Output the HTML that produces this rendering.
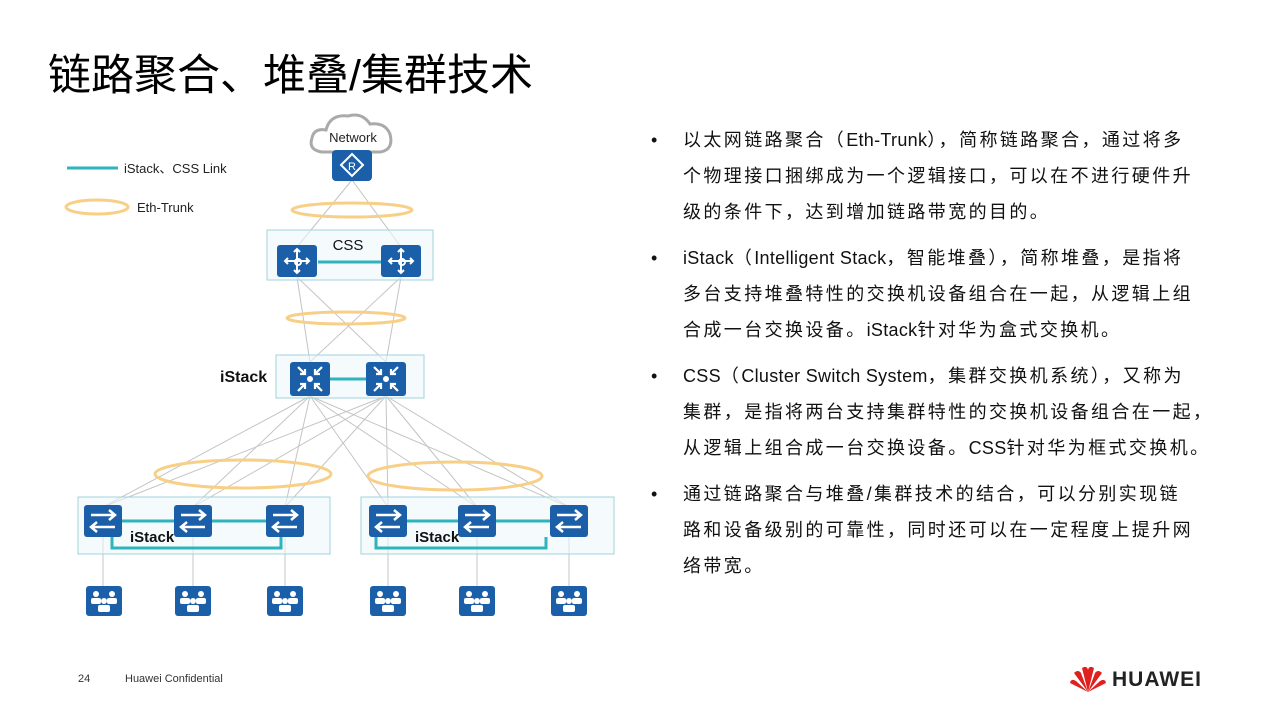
<!DOCTYPE html>
<html><head><meta charset="utf-8"><style>
body{margin:0;width:1280px;height:720px;background:#fff;position:relative;overflow:hidden;font-family:"Liberation Sans","Noto Sans CJK SC",sans-serif}
.t{position:absolute;left:48px;top:41px;font-size:43px;color:#000;white-space:nowrap}
ul{position:absolute;left:655px;top:122px;margin:0;padding:0;list-style:none;width:620px}
li{position:relative;padding-left:28px;font-size:18px;line-height:36px;margin-bottom:10px;color:#111;white-space:nowrap;letter-spacing:2.4px}
li:before{content:"•";position:absolute;left:-4px;top:0}
.l{letter-spacing:0.3px}
.f{position:absolute;top:673px;font-size:11px;color:#333}
</style></head><body>
<div class="t">链路聚合、堆叠/集群技术</div>
<ul>
<li>以太网链路聚合（<span class="l">Eth-Trunk</span>），简称链路聚合，通过将多<br>个物理接口捆绑成为一个逻辑接口，可以在不进行硬件升<br>级的条件下，达到增加链路带宽的目的。</li>
<li><span class="l">iStack</span>（<span class="l">Intelligent Stack</span>，智能堆叠），简称堆叠，是指将<br>多台支持堆叠特性的交换机设备组合在一起，从逻辑上组<br>合成一台交换设备。<span class="l">iStack</span>针对华为盒式交换机。</li>
<li><span class="l">CSS</span>（<span class="l">Cluster Switch System</span>，集群交换机系统），又称为<br>集群，是指将两台支持集群特性的交换机设备组合在一起，<br>从逻辑上组合成一台交换设备。<span class="l">CSS</span>针对华为框式交换机。</li>
<li>通过链路聚合与堆叠/集群技术的结合，可以分别实现链<br>路和设备级别的可靠性，同时还可以在一定程度上提升网<br>络带宽。</li>
</ul>
<div class="f" style="left:78px">24</div>
<div class="f" style="left:125px">Huawei Confidential</div>
<svg style="position:absolute;left:1068px;top:664px" width="40" height="30" viewBox="0 0 40 30">
<g fill="#e0201f"><path d="M20 28 L14 4 Q19 1 20 6Z"/><path d="M20 28 L26 4 Q21 1 20 6Z"/><path d="M20 28 L6 9 Q10 5 13 9Z"/><path d="M20 28 L34 9 Q30 5 27 9Z"/><path d="M20 28 L2 19 Q3 14 8 17Z"/><path d="M20 28 L38 19 Q37 14 32 17Z"/></g></svg>
<div style="position:absolute;left:1112px;top:668px;font-size:21px;font-weight:bold;color:#222;letter-spacing:1px">HUAWEI</div>
<svg style="position:absolute;left:0;top:0" width="640" height="660" font-family="Liberation Sans, Noto Sans CJK SC, sans-serif">
<defs>
<g id="sw"><rect x="-19" y="-16" width="38" height="32" rx="3" fill="#1a5fa8"/><g stroke="#fff" stroke-width="2.5" fill="none"><path d="M-12 -6H12M6 -11L12 -6L6 -1"/><path d="M12 6H-12M-6 1L-12 6L-6 11"/></g></g>
<g id="us"><rect x="-18" y="-15" width="36" height="30" rx="3" fill="#1a5fa8"/><g fill="#fff"><circle cx="-8" cy="-7" r="3"/><circle cx="8" cy="-7" r="3"/><circle cx="0" cy="0" r="3"/><rect x="-13" y="-3" width="10" height="6" rx="2"/><rect x="3" y="-3" width="10" height="6" rx="2"/><rect x="-6" y="4" width="12" height="7" rx="2"/></g></g>
<g id="cs"><rect x="-20" y="-16" width="40" height="32" rx="3" fill="#1a5fa8"/><g stroke="#fff" stroke-width="2" fill="none"><path d="M0 -12V12M-12 0H12M-3 -9L0 -12L3 -9M-3 9L0 12L3 9M-9 -3L-12 0L-9 3M9 -3L12 0L9 3"/><circle cx="1" cy="1" r="3"/></g></g>
<g id="is"><rect x="-20" y="-17" width="40" height="34" rx="3" fill="#1a5fa8"/><g stroke="#fff" stroke-width="2.2" fill="none"><path d="M-12 -12L-5 -5M-5 -10V-5H-10M12 -12L5 -5M5 -10V-5H10M-12 12L-5 5M-5 10V5H-10M12 12L5 5M5 10V5H10"/></g><circle r="3" fill="#fff"/></g>
</defs>
<line x1="67" y1="168" x2="118" y2="168" stroke="#2fb3bd" stroke-width="3"/>
<text x="124" y="173" font-size="13" fill="#222">iStack、CSS Link</text>
<ellipse cx="97" cy="207" rx="31" ry="7" fill="none" stroke="#f8cf86" stroke-width="3"/>
<text x="137" y="212" font-size="13" fill="#222">Eth-Trunk</text>
<path d="M322 152 Q308 150 312 138 Q314 128 326 130 Q330 114 348 116 Q362 112 370 124 Q385 122 390 134 Q394 150 380 152Z" fill="#fff" stroke="#aaa" stroke-width="3"/>
<text x="353" y="142" font-size="13" text-anchor="middle" fill="#222">Network</text>
<g stroke="#c4c4c4" stroke-width="1">
<line x1="352" y1="180" x2="297" y2="247"/><line x1="352" y1="180" x2="401" y2="247"/>
<line x1="297" y1="277" x2="310" y2="362"/><line x1="297" y1="277" x2="386" y2="362"/><line x1="401" y1="277" x2="310" y2="362"/><line x1="401" y1="277" x2="386" y2="362"/>
<line x1="310" y1="396" x2="103" y2="507"/><line x1="310" y1="396" x2="193" y2="507"/><line x1="310" y1="396" x2="285" y2="507"/><line x1="310" y1="396" x2="388" y2="507"/><line x1="310" y1="396" x2="477" y2="507"/><line x1="310" y1="396" x2="569" y2="507"/>
<line x1="386" y1="396" x2="103" y2="507"/><line x1="386" y1="396" x2="193" y2="507"/><line x1="386" y1="396" x2="285" y2="507"/><line x1="386" y1="396" x2="388" y2="507"/><line x1="386" y1="396" x2="477" y2="507"/><line x1="386" y1="396" x2="569" y2="507"/>
<line x1="103" y1="537" x2="103" y2="590"/><line x1="193" y1="537" x2="193" y2="590"/><line x1="285" y1="537" x2="285" y2="590"/><line x1="388" y1="537" x2="388" y2="590"/><line x1="477" y1="537" x2="477" y2="590"/><line x1="569" y1="537" x2="569" y2="590"/>
</g>
<rect x="332" y="150" width="40" height="31" rx="4" fill="#1a5fa8"/>
<path d="M352 154 L363 165 L352 176 L341 165Z" fill="none" stroke="#fff" stroke-width="2"/>
<text x="352" y="170" font-size="11" text-anchor="middle" fill="#fff">R</text>
<g fill="none" stroke="#f8cf86" stroke-width="3">
<ellipse cx="352" cy="210" rx="60" ry="7"/><ellipse cx="346" cy="318" rx="59" ry="6"/>
<ellipse cx="243" cy="474" rx="88" ry="14"/><ellipse cx="455" cy="476" rx="87" ry="14"/>
</g>
<rect x="267" y="230" width="166" height="50" fill="#eef8fa" fill-opacity=".6" stroke="#9fd3dc"/>
<text x="348" y="250" font-size="15" text-anchor="middle" fill="#111">CSS</text>
<line x1="318" y1="262" x2="381" y2="262" stroke="#2fb3bd" stroke-width="3"/>
<use href="#cs" x="297" y="261"/><use href="#cs" x="401" y="261"/>
<rect x="276" y="355" width="148" height="43" fill="#eef8fa" fill-opacity=".6" stroke="#9fd3dc"/>
<text x="220" y="382" font-size="16" font-weight="bold" fill="#111">iStack</text>
<line x1="330" y1="379" x2="366" y2="379" stroke="#2fb3bd" stroke-width="3"/>
<use href="#is" x="310" y="379"/><use href="#is" x="386" y="379"/>
<rect x="78" y="497" width="252" height="57" fill="#eef8fa" fill-opacity=".6" stroke="#9fd3dc"/>
<rect x="361" y="497" width="253" height="57" fill="#eef8fa" fill-opacity=".6" stroke="#9fd3dc"/>
<g stroke="#2fb3bd" stroke-width="3" fill="none">
<line x1="120" y1="521" x2="285" y2="521"/><path d="M112 537V548H281V537"/>
<line x1="405" y1="521" x2="569" y2="521"/><path d="M376 537V548H546V537"/>
</g>
<use href="#sw" x="103" y="521"/><use href="#sw" x="193" y="521"/><use href="#sw" x="285" y="521"/>
<use href="#sw" x="388" y="521"/><use href="#sw" x="477" y="521"/><use href="#sw" x="569" y="521"/>
<text x="130" y="542" font-size="15" font-weight="bold" fill="#111">iStack</text>
<text x="415" y="542" font-size="15" font-weight="bold" fill="#111">iStack</text>
<use href="#us" x="104" y="601"/><use href="#us" x="193" y="601"/><use href="#us" x="285" y="601"/>
<use href="#us" x="388" y="601"/><use href="#us" x="477" y="601"/><use href="#us" x="569" y="601"/>
</svg>
</body></html>
